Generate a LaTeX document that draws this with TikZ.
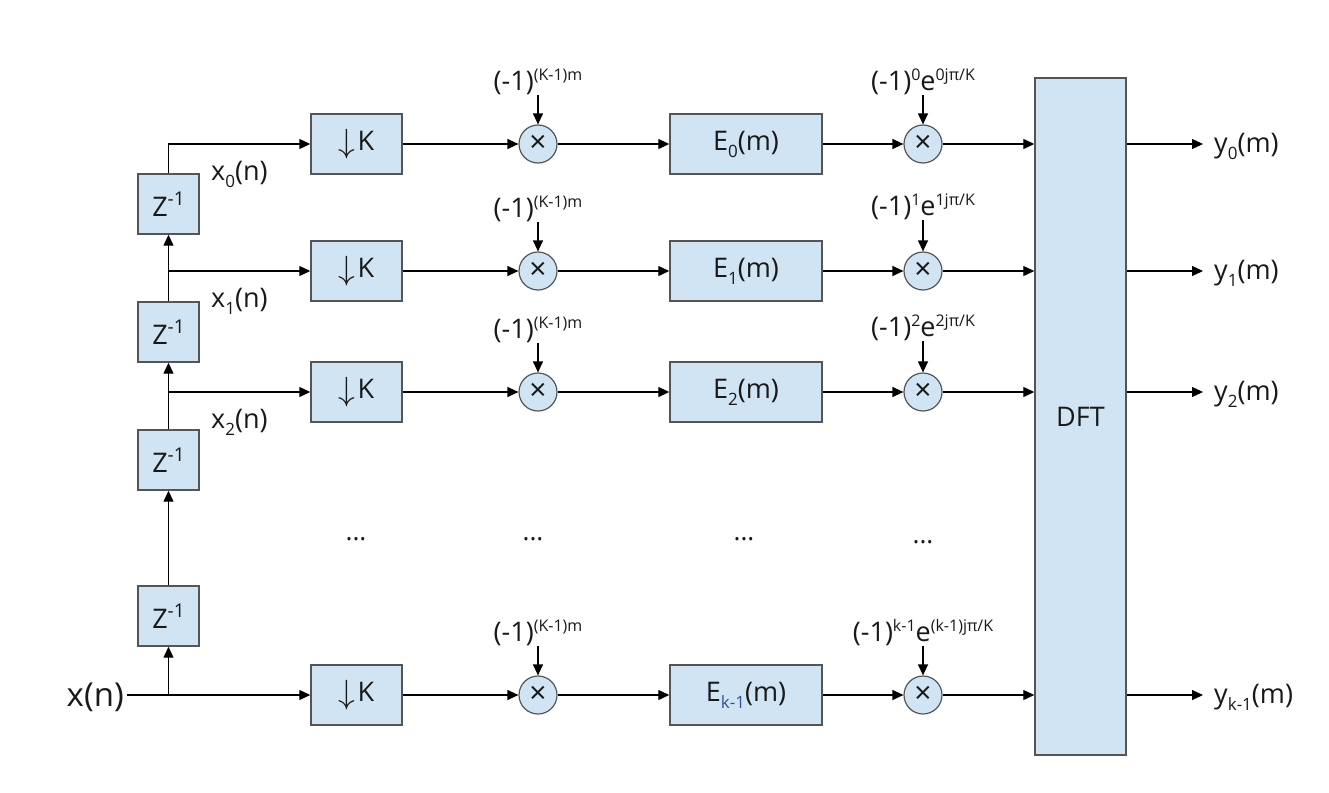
\documentclass[tikz,border=0pt]{standalone}
\usepackage{fontspec}
\setmainfont{Open Sans}
\usetikzlibrary{arrows.meta}
\definecolor{boxfill}{RGB}{208,228,243}
\definecolor{boxline}{RGB}{85,85,85}
\definecolor{txt}{RGB}{25,25,25}
\definecolor{subblue}{RGB}{46,84,150}
\newcommand\mysub[1]{\raisebox{-7pt}{\fontsize{17}{17}\selectfont #1}}
\newcommand\mysup[1]{\raisebox{10pt}{\fontsize{16}{16}\selectfont #1}}
\newcommand\zinv{Z\raisebox{11pt}{\fontsize{19}{19}\selectfont -1}}
\newcommand\dnK{\raisebox{-2pt}{\scalebox{1.35}{$\downarrow$}}\kern2pt K}
\begin{document}
\begin{tikzpicture}[x=1pt,y=-1pt,
  every node/.style={font=\fontsize{27}{30}\selectfont, text=txt},
  blk/.style={draw=boxline, line width=1.4pt, fill=boxfill, minimum height=60pt, inner sep=0pt},
  zbox/.style={blk, minimum width=61pt},
  dbox/.style={blk, minimum width=91pt},
  ebox/.style={blk, minimum width=152pt},
  mult/.style={circle, draw=boxline, line width=1.2pt, fill=boxfill, minimum size=38pt, inner sep=0pt, font=\fontsize{30}{30}\selectfont},
  lab/.style={inner sep=1pt, anchor=base},
  arr/.style={line width=1.2pt, -{Triangle[length=11pt,width=10pt]}},
  ln/.style={line width=1.2pt},
  dotlab/.style={anchor=base, font=\fontsize{26}{26}\selectfont}
]
\useasboundingbox (0,0) rectangle (1329,792);
% row coordinates
\coordinate (r0) at (0,144);
\coordinate (r1) at (0,271);
\coordinate (r2) at (0,392);
\coordinate (r4) at (0,695);
% delay boxes
\node[zbox] (z1) at (168.5,204) {\zinv};
\node[zbox] (z2) at (168.5,332) {\zinv};
\node[zbox] (z3) at (168.5,460) {\zinv};
\node[zbox] (z4) at (168.5,616) {\zinv};
% input
\node[anchor=base east, inner xsep=3pt, font=\fontsize{33}{36}\selectfont] (xn) at (127,706) {x(n)};
% downsamplers
\node[dbox] (d0) at (356.5,144) {\dnK};
\node[dbox] (d1) at (356.5,271) {\dnK};
\node[dbox] (d2) at (356.5,392) {\dnK};
\node[dbox] (d4) at (356.5,695) {\dnK};
% first multipliers
\node[mult] (m0) at (538,144) {×};
\node[mult] (m1) at (538,271) {×};
\node[mult] (m2) at (538,392) {×};
\node[mult] (m4) at (538,695) {×};
\node[lab] (l0) at (538,90) {(-1)\mysup{(K-1)m}};
\node[lab] (l1) at (538,217) {(-1)\mysup{(K-1)m}};
\node[lab] (l2) at (538,338) {(-1)\mysup{(K-1)m}};
\node[lab] (l4) at (538,641) {(-1)\mysup{(K-1)m}};
% polyphase filters
\node[ebox] (e0) at (746,144) {E\mysub{0}(m)};
\node[ebox] (e1) at (746,271) {E\mysub{1}(m)};
\node[ebox] (e2) at (746,392) {E\mysub{2}(m)};
\node[ebox] (e4) at (746,695) {E\mysub{\textcolor{subblue}{k-1}}(m)};
% second multipliers
\node[mult] (n0) at (923,144) {×};
\node[mult] (n1) at (923,271) {×};
\node[mult] (n2) at (923,392) {×};
\node[mult] (n4) at (923,695) {×};
\node[lab] (k0) at (923,90) {(-1)\mysup{0}e\mysup{0jπ/K}};
\node[lab] (k1) at (923,215) {(-1)\mysup{1}e\mysup{1jπ/K}};
\node[lab] (k2) at (923,336) {(-1)\mysup{2}e\mysup{2jπ/K}};
\node[lab] (k4) at (923,641) {(-1)\mysup{k-1}e\mysup{(k-1)jπ/K}};
% DFT
\node[blk, minimum width=91pt, minimum height=677pt] (dft) at (1080.5,416.5) {DFT};
% outputs
\node[anchor=base west, inner xsep=11pt, inner ysep=0pt] (y0) at (1203,152) {y\mysub{0}(m)};
\node[anchor=base west, inner xsep=11pt, inner ysep=0pt] (y1) at (1203,279) {y\mysub{1}(m)};
\node[anchor=base west, inner xsep=11pt, inner ysep=0pt] (y2) at (1203,400) {y\mysub{2}(m)};
\node[anchor=base west, inner xsep=11pt, inner ysep=0pt] (y4) at (1203,703) {y\mysub{k-1}(m)};
% tap labels
\node[anchor=base west, inner sep=0pt] (x0) at (211,180) {x\mysub{0}(n)};
\node[anchor=base west, inner sep=0pt] (x1) at (211,307) {x\mysub{1}(n)};
\node[anchor=base west, inner sep=0pt] (x2) at (211,428) {x\mysub{2}(n)};
% dots
\node[dotlab] (p1) at (356,540) {...};
\node[dotlab] (p2) at (533,540) {...};
\node[dotlab] (p3) at (744,540) {...};
\node[dotlab] (p4) at (923,543) {...};
% delay chain
\draw[ln] (xn.east |- r4) -- (z4.south |- r4);
\draw[arr] (z4.south |- r4) -- (z4.south);
\draw[arr] (z4.north) -- (z3.south);
\draw[arr] (z3.north) -- (z2.south);
\draw[arr] (z2.north) -- (z1.south);
\draw[arr] (z1.north) |- (d0.west);
\draw[arr] (z2.north |- r1) -- (d1.west);
\draw[arr] (z3.north |- r2) -- (d2.west);
\draw[arr] (z4.south |- r4) -- (d4.west);
% rows
\foreach \i in {0,1,2,4}{
  \draw[arr] (d\i.east) -- (m\i.west);
  \draw[arr] (l\i.south -| m\i.north) -- (m\i.north);
  \draw[arr] (m\i.east) -- (e\i.west);
  \draw[arr] (e\i.east) -- (n\i.west);
  \draw[arr] (k\i.south -| n\i.north) -- (n\i.north);
  \draw[arr] (n\i.east) -- (n\i.east -| dft.west);
  \draw[arr] (dft.east |- n\i.east) -- (y\i.west |- n\i.east);
}
\end{tikzpicture}
\end{document}
